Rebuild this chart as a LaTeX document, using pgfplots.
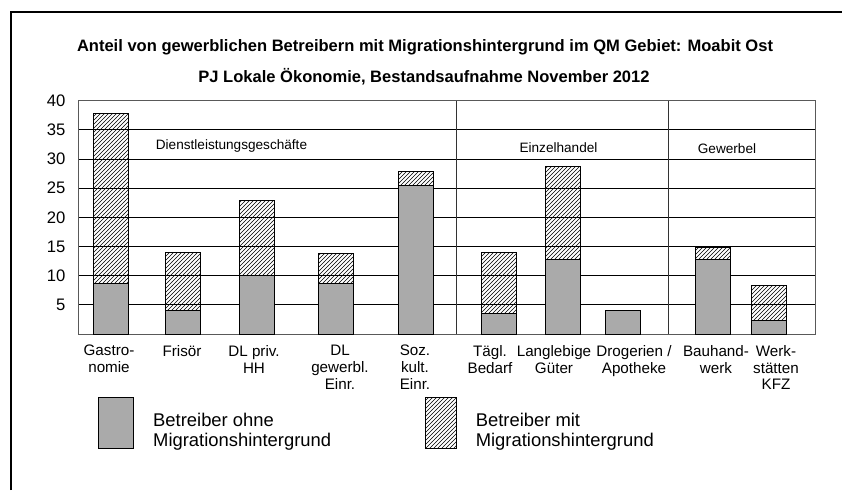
\documentclass[border=0pt]{standalone}
\usepackage{fontspec}
\setmainfont{Liberation Sans}
\usepackage{pgfplots}
\pgfplotsset{compat=1.18}
\usetikzlibrary{patterns}
\definecolor{barGray}{RGB}{170,170,170}
\begin{document}
\begin{tikzpicture}
\useasboundingbox (0,0) rectangle (631.5pt,367.5pt);
% outer frame (only top and left edges visible)
\draw[line width=0.8pt] (8.25pt,0pt) -- (8.25pt,358.5pt) -- (631.5pt,358.5pt);
\node[font=\bfseries\fontsize{12.4}{14}\selectfont] at (318.75pt,332.25pt) {Anteil von gewerblichen Betreibern mit Migrationshintergrund im QM Gebiet: Moabit Ost};
\node[font=\bfseries\fontsize{12.4}{14}\selectfont] at (318pt,309.75pt) {PJ Lokale Ökonomie, Bestandsaufnahme November 2012};
\begin{axis}[
  at={(58.5pt,117pt)}, anchor=south west,
  width=552.75pt, height=175pt, scale only axis,
  xmin=78, xmax=815, ymin=0, ymax=40,
  ybar stacked, bar width=35,
  % label positions follow the reference, not always the bar centres
  xtick={109,182,254,340,415,490,554,634,716,776},
  xticklabels={{Gastro-\\nomie},{Frisör},{DL priv.\\HH},{DL\\gewerbl.\\Einr.},{Soz.\\kult.\\Einr.},
    {Tägl.\\Bedarf},{Langlebige\\Güter},{Drogerien /\\Apotheke},{Bauhand-\\werk},{Werk-\\stätten\\KFZ}},
  xticklabel style={font=\fontsize{11.4}{12.5}\selectfont, align=center, anchor=north, yshift=-5pt},
  ytick={5,10,...,40},
  yticklabel style={font=\fontsize{12.5}{14}\selectfont, xshift=-6pt},
  /pgf/number format/assume math mode=true,
  major tick length=0pt,
  ymajorgrids, grid style={black, line width=0.6pt},
  extra x ticks={456.7,668.3}, extra x tick labels={},
  extra x tick style={grid=major, major grid style={black!80, line width=0.7pt}},
  axis line style={black!65, line width=0.7pt},
  legend style={at={(axis cs:98,-10.8)}, anchor=north west, draw=none, fill=none,
    inner sep=0pt, legend columns=2,
    nodes={inner sep=0pt, font=\fontsize{13.8}{15}\selectfont, align=left},
    /tikz/every odd column/.append style={column sep=14.25pt},
    /tikz/every even column/.append style={column sep=70.5pt},
    /tikz/column 3/.append style={column sep=19.5pt}},
  legend cell align=left,
]
\addplot[fill=barGray, draw=black, line width=0.7pt,
  legend image code/.code={\draw[fill=barGray, draw=black, line width=0.7pt] (0pt,-13.5pt) rectangle (26.25pt,24.5pt);}]
  coordinates {(110.8,8.7) (183.3,4.1) (256.5,10.0) (335.5,8.6) (415.8,25.4)
               (498.5,3.6) (563.2,12.7) (623.0,4.1) (713.2,12.7) (769.2,2.3)};
\addlegendentry{Betreiber ohne\\Migrationshintergrund}
\addplot[pattern=north east lines, draw=black, line width=0.7pt,
  legend image code/.code={\draw[pattern=north east lines, draw=black, line width=0.5pt] (0pt,-13.5pt) rectangle (23.25pt,24.5pt);}]
  coordinates {(110.8,29.1) (183.3,9.8) (256.5,12.9) (335.5,5.2) (415.8,2.4)
               (498.5,10.3) (563.2,16.0) (623.0,0) (713.2,2.1) (769.2,6.0)};
\addlegendentry{Betreiber mit\\Migrationshintergrund}
\node[font=\fontsize{10.2}{12}\selectfont] at (axis cs:231.5,32.2) {Dienstleistungsgeschäfte};
\node[font=\fontsize{10.2}{12}\selectfont] at (axis cs:558.5,31.9) {Einzelhandel};
\node[font=\fontsize{10.2}{12}\selectfont] at (axis cs:727,31.8) {Gewerbel};
\end{axis}
\end{tikzpicture}
\end{document}
